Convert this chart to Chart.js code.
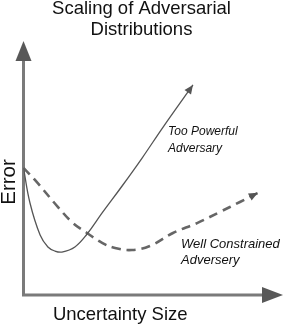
<!DOCTYPE html>
<html>
<head>
<meta charset="utf-8">
<script src="https://cdn.jsdelivr.net/npm/chart.js@4.4.0/dist/chart.umd.min.js"></script>
<style>
    html, body { margin: 0; padding: 0; background: #fff; }
    #wrap { width: 284px; height: 326px; position: relative; }
</style>
</head>
<body>
<div id="wrap"><canvas id="chart"></canvas></div>
<script>
// schematic curves, x = uncertainty size, y = error (arbitrary units 0..100)
const tooPowerfulX = [0, 2.5, 6.4, 9.4, 12.1, 14.8, 19.8, 24.5, 30.3, 38.0, 45.7, 53.8, 65.3];
const tooPowerfulY = [50.0, 36.2, 23.6, 18.9, 17.3, 16.9, 18.9, 24.0, 32.3, 42.9, 53.9, 66.1, 82.7];
const constrainedX = [0, 4.4, 13.3, 19.1, 24.5, 30.3, 35.3, 41.8, 48.7, 57.6, 66.9, 75.7, 83.4, 90.3];
const constrainedY = [50.0, 45.3, 34.6, 28.3, 24.4, 20.5, 18.5, 17.7, 19.3, 24.4, 28.3, 32.7, 36.6, 40.2];

const titleLines = ['Scaling of Adversarial', 'Distributions'];
const xAxisLabel = 'Uncertainty Size';
const yAxisLabel = 'Error';
const tooPowerfulLabel = ['Too Powerful', 'Adversary'];
const constrainedLabel = ['Well Constrained', 'Adversery'];

const FONT = '"Liberation Sans", Arial, Helvetica, sans-serif';

function toPoints(xs, ys) {
    return xs.map((x, i) => ({ x: x, y: ys[i] }));
}

function arrowHead(ctx, fromX, fromY, tipX, tipY, len, half, color) {
    const ang = Math.atan2(tipY - fromY, tipX - fromX);
    const bx = tipX - len * Math.cos(ang);
    const by = tipY - len * Math.sin(ang);
    ctx.beginPath();
    ctx.moveTo(tipX, tipY);
    ctx.lineTo(bx + half * Math.sin(ang), by - half * Math.cos(ang));
    ctx.lineTo(bx - half * Math.sin(ang), by + half * Math.cos(ang));
    ctx.closePath();
    ctx.fillStyle = color;
    ctx.fill();
}

// axes drawn as thick arrows from the origin
const axisArrows = {
    id: 'axisArrows',
    beforeDatasetsDraw(chart) {
        const ctx = chart.ctx;
        const x = chart.scales.x, y = chart.scales.y;
        const ox = x.getPixelForValue(0), oy = y.getPixelForValue(0);
        const xEnd = x.getPixelForValue(100), yEnd = y.getPixelForValue(100);
        ctx.save();
        ctx.strokeStyle = '#7a7a7a';
        ctx.lineWidth = 3;
        ctx.beginPath();
        ctx.moveTo(ox, yEnd + 20);
        ctx.lineTo(ox, oy);
        ctx.lineTo(xEnd - 21, oy);
        ctx.stroke();
        arrowHead(ctx, ox, oy, ox, yEnd, 20, 8, '#585858');
        arrowHead(ctx, ox, oy, xEnd, oy, 21, 8, '#585858');
        ctx.restore();
    }
};

// arrowheads on the curves, labels
const annotations = {
    id: 'annotations',
    afterDatasetsDraw(chart) {
        const ctx = chart.ctx;
        const x = chart.scales.x, y = chart.scales.y;
        ctx.save();
        chart.data.datasets.forEach((ds, i) => {
            const pts = chart.getDatasetMeta(i).data;
            const a = pts[pts.length - 2], b = pts[pts.length - 1];
            arrowHead(ctx, a.x, a.y, b.x, b.y, 9, 4, '#555');
        });

        ctx.fillStyle = '#111';
        ctx.textBaseline = 'middle';
        ctx.textAlign = 'left';
        ctx.font = 'italic 12px ' + FONT;
        tooPowerfulLabel.forEach((t, i) => {
            ctx.fillText(t, x.getPixelForValue(55.7), y.getPixelForValue(64.2) + i * 16.5);
        });
        ctx.font = 'italic 13px ' + FONT;
        constrainedLabel.forEach((t, i) => {
            ctx.fillText(t, x.getPixelForValue(60.7), y.getPixelForValue(20.1) + i * 16.5);
        });

        ctx.textAlign = 'center';
        ctx.font = '18.5px ' + FONT;
        ctx.fillText(xAxisLabel, (x.left + x.right) / 2 - 33, y.getPixelForValue(0) + 19.5);

        ctx.translate(x.getPixelForValue(0) - 14.5, y.getPixelForValue(44.5));
        ctx.rotate(-Math.PI / 2);
        ctx.font = '20.5px ' + FONT;
        ctx.fillText(yAxisLabel, 0, 0);
        ctx.restore();
    }
};

const ctx = document.getElementById('chart');
new Chart(ctx, {
    type: 'scatter',
    data: {
        datasets: [{
            label: tooPowerfulLabel.join(' '),
            data: toPoints(tooPowerfulX, tooPowerfulY),
            showLine: true,
            borderColor: '#555',
            borderWidth: 1.3,
            tension: 0.4,
            pointRadius: 0
        }, {
            label: constrainedLabel.join(' '),
            data: toPoints(constrainedX, constrainedY),
            showLine: true,
            borderColor: '#666',
            borderWidth: 2.6,
            borderDash: [9, 6],
            tension: 0.4,
            pointRadius: 0
        }]
    },
    options: {
        responsive: true,
        maintainAspectRatio: false,
        animation: false,
        layout: {
            padding: { left: 0, right: 1, top: 0, bottom: 0 }
        },
        plugins: {
            legend: { display: false },
            tooltip: { enabled: false },
            title: {
                display: true,
                text: titleLines,
                color: '#111',
                font: { family: FONT, size: 18.5, weight: 'normal', lineHeight: 1.16 },
                padding: { top: -2, bottom: 0 }
            }
        },
        scales: {
            x: {
                type: 'linear', min: 0, max: 100,
                grid: { display: false }, border: { display: false }, ticks: { display: false },
                afterFit: (s) => { s.height = 31; }
            },
            y: {
                type: 'linear', min: 0, max: 100,
                grid: { display: false }, border: { display: false }, ticks: { display: false },
                afterFit: (s) => { s.width = 23.5; }
            }
        }
    },
    plugins: [axisArrows, annotations]
});
</script>
</body>
</html>
